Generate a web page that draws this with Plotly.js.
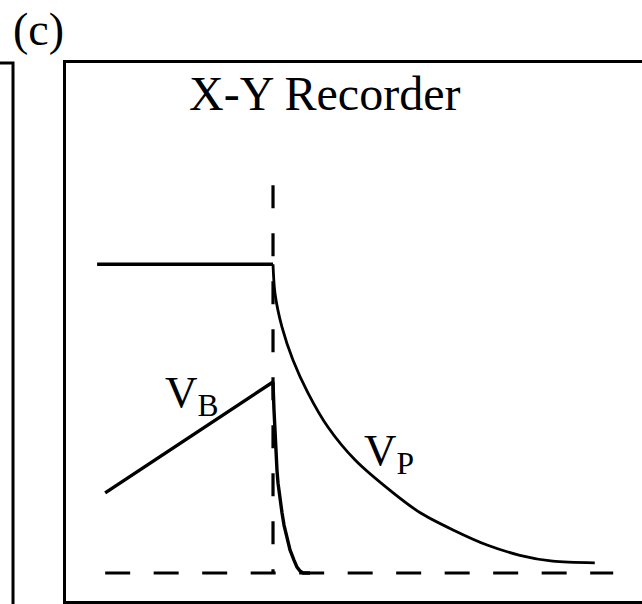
<!DOCTYPE html>
<html>
<head>
<meta charset="utf-8">
<script src="https://cdn.plot.ly/plotly-3.0.1.min.js"></script>
<style>body{margin:0;padding:0;background:#fff;} #chart{width:642px;height:604px;}</style>
</head>
<body>
<div id="chart"></div>
<script>
// Arbitrary time (x) and voltage (y) units
const baselineX = [6.8, 95.0];
const baselineY = [0, 0];
const markerX = [35.94, 35.94];
const markerY = [72.1, 0];
const levelX = [5.4, 35.94];
const levelY = [57.4, 57.4];
const vbX = [6.8, 35.94, 36.11, 36.28, 36.46, 36.63, 36.81, 37.15, 37.5, 37.85, 38.37, 38.89, 39.58, 40.10, 40.63, 41.15, 42.36];
const vbY = [14.9, 35.5, 30.3, 25.7, 21.9, 19.1, 16.7, 13.6, 11.2, 8.9, 6.5, 4.3, 2.4, 1.1, 0.37, 0, 0];
const vpX = [35.94, 36.28, 37.5, 39.4, 42.0, 45.5, 50.2, 56.8, 61.5, 67.2, 73.1, 78.8, 84.5, 91.8];
const vpY = [57.4, 52.0, 45.7, 39.6, 33.5, 27.1, 21.0, 14.9, 11.2, 8.0, 5.2, 3.3, 2.2, 1.9];
const panelLabel = "(c)";
const chartTitle = "X-Y Recorder";
const vbLabel = "V<sub>B</sub>";
const vpLabel = "V<sub>P</sub>";

const serif = "Liberation Serif, Times New Roman, serif";
const black = "#000";

const traces = [
  {x: baselineX, y: baselineY, mode: "lines", line: {color: black, width: 3.2, dash: "25px,23.5px"}, hoverinfo: "skip"},
  {x: markerX, y: markerY, mode: "lines", line: {color: black, width: 3.2, dash: "23px,25px"}, hoverinfo: "skip"},
  {x: levelX, y: levelY, mode: "lines", line: {color: black, width: 3.4}, hoverinfo: "skip"},
  {x: vbX, y: vbY, mode: "lines", line: {color: black, width: 3.4}, hoverinfo: "skip"},
  {x: vpX, y: vpY, mode: "lines", line: {color: black, width: 2.8, shape: "spline", smoothing: 0.8}, hoverinfo: "skip"}
];

const layout = {
  width: 642, height: 604,
  margin: {l: 66, r: 0, t: 63, b: 3, pad: 0},
  paper_bgcolor: "#fff", plot_bgcolor: "#fff",
  showlegend: false,
  xaxis: {range: [0, 100], showgrid: false, zeroline: false, showticklabels: false, ticks: "",
          showline: true, mirror: true, linecolor: black, linewidth: 3, fixedrange: true},
  yaxis: {range: [-5.2, 94.8], showgrid: false, zeroline: false, showticklabels: false, ticks: "",
          showline: true, mirror: false, linecolor: black, linewidth: 3, fixedrange: true},
  shapes: [
    {type: "path", xref: "paper", yref: "paper", path: "M -0.13,1.0 L -0.092,1.0 L -0.092,-0.02",
     line: {color: black, width: 3}}
  ],
  annotations: [
    {text: panelLabel, xref: "paper", yref: "paper", x: -0.096, y: 1.062, xanchor: "left", yanchor: "middle",
     showarrow: false, font: {family: serif, size: 46, color: black}},
    {text: chartTitle, xref: "paper", yref: "paper", x: 0.21, y: 0.943, xanchor: "left", yanchor: "middle",
     showarrow: false, font: {family: serif, size: 48, color: black}},
    {text: vbLabel, xref: "x", yref: "y", x: 16.9, y: 38.6, xanchor: "left", yanchor: "top",
     showarrow: false, font: {family: serif, size: 45, color: black}},
    {text: vpLabel, xref: "x", yref: "y", x: 51.4, y: 27.8, xanchor: "left", yanchor: "top",
     showarrow: false, font: {family: serif, size: 45, color: black}}
  ]
};

Plotly.newPlot("chart", traces, layout, {displayModeBar: false, responsive: false});
</script>
</body>
</html>
